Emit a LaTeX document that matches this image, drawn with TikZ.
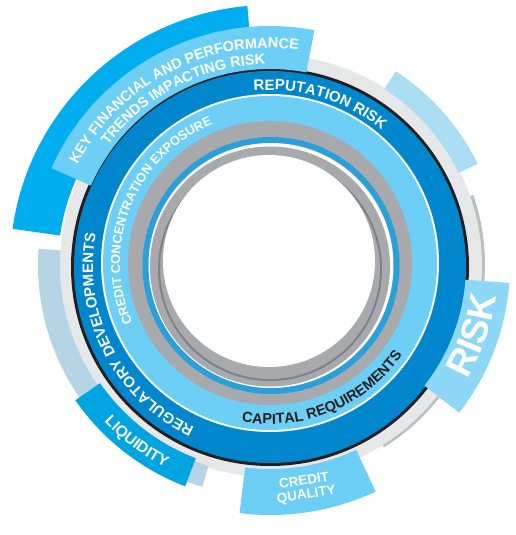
\documentclass[tikz,border=0pt]{standalone}
\usepackage{fontspec}
\setmainfont{Liberation Sans}
\usetikzlibrary{decorations.text}
\definecolor{dkblue}{RGB}{0,134,204}
\definecolor{ltblue}{RGB}{109,207,246}
\definecolor{midgray}{RGB}{167,169,172}
\definecolor{ringblue}{RGB}{41,160,219}
\definecolor{ltgray}{RGB}{230,231,232}
\definecolor{arcgray}{RGB}{188,190,192}
\definecolor{inkblack}{RGB}{35,31,32}
\definecolor{cyanA}{RGB}{0,174,239}
\definecolor{paleA}{RGB}{171,222,245}
\definecolor{paleB}{RGB}{181,212,230}
\definecolor{liqblue}{RGB}{0,164,224}
\definecolor{riskblue}{RGB}{141,215,247}
\definecolor{darkline}{RGB}{128,130,133}
% annular sector: colour, start angle, end angle, outer r, inner r
\newcommand\annsec[5]{\fill[#1] (#2:#4pt) arc[start angle=#2,end angle=#3,radius=#4pt] -- (#3:#5pt) arc[start angle=#3,end angle=#2,radius=#5pt] -- cycle;}
% text on an arc: colour, centre, radius, start, end, size, text
\newcommand\arctxt[7]{\path[decorate,decoration={text along path,text align=center,text color=#1,text={|\fontsize{#6}{#6}\selectfont\bfseries|#7}}] (#2) ++(#4:#3pt) arc[start angle=#4,end angle=#5,radius=#3pt];}
\begin{document}
\begin{tikzpicture}[x=1pt,y=1pt]
\useasboundingbox (-270,-270) rectangle (246,265);
% outer thin grey arc on the right
\annsec{arcgray}{-58}{19}{215}{205}
% rings
\fill[ltgray] (1,-1) circle[radius=211pt];
\fill[inkblack] (0,-2) circle[radius=199pt];
\fill[dkblue] (0,-2) circle[radius=196pt];
\fill[white] (0,2) circle[radius=169pt];
\fill[ltblue] (0,2) circle[radius=167pt];
\fill[midgray] (0,2) circle[radius=142pt];
\fill[ringblue] (1,-0.5) circle[radius=128.5pt];
\fill[white] (1,-0.5) circle[radius=122.5pt];
\fill[midgray] (0,-1.5) circle[radius=120pt];
\draw[darkline,line width=2pt] (0,-4) circle[radius=111pt];
\fill[white] (-1,4) circle[radius=106pt];
% outer boxes
\annsec{paleA}{26}{57}{231}{210}
\annsec{paleB}{176}{253}{232}{210}
\annsec{cyanA}{95}{172}{260}{212}
\annsec{ltblue}{79.3}{156.1}{239}{196}
\annsec{liqblue}{214.8}{249}{237}{207}
\annsec{riskblue}{-38}{-4.3}{240}{196}
\annsec{ltblue}{263}{295}{250}{204}
% texts
\arctxt{white}{0,0}{217}{156}{79}{14.5}{KEY FINANCIAL AND PERFORMANCE}
\arctxt{white}{0,0}{201}{156}{79}{14.5}{TRENDS IMPACTING RISK}
\arctxt{white}{0,-2}{177}{95}{51}{15}{REPUTATION RISK}
\arctxt{white}{0,2}{150}{210}{106}{12.8}{CREDIT CONCENTRATION EXPOSURE}
\arctxt{white}{0,-2}{177}{250}{164}{15}{REGULATORY DEVELOPMENTS}
\arctxt{inkblack}{0,2}{161}{250}{335}{14.5}{CAPITAL REQUIREMENTS}
\arctxt{white}{0,0}{228}{-40}{2}{37}{RISK}
\arctxt{white}{0,0}{228}{215}{251}{15.5}{LIQUIDITY}
\node[rotate=9,align=center,text=white,font=\bfseries\fontsize{13.5}{14}\selectfont,inner sep=0pt] (cq) at (279:226pt) {CREDIT\\QUALITY};
\end{tikzpicture}
\end{document}
